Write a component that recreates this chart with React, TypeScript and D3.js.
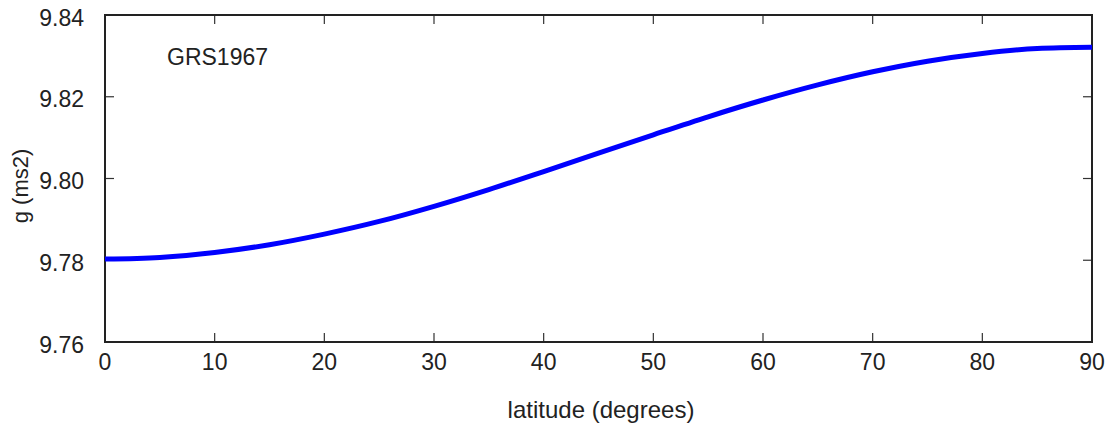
import React, { useRef, useEffect } from "react";
import * as d3 from "d3";

// GRS1967 normal gravity (every 5 degrees)
const latitudes = [0, 5, 10, 15, 20, 25, 30, 35, 40, 45, 50, 55, 60, 65, 70, 75, 80, 85, 90];
const gravity = [
  9.7803, 9.7807, 9.7819, 9.7838, 9.7864, 9.7895, 9.7932, 9.7973, 9.8017, 9.8062,
  9.8107, 9.8151, 9.8192, 9.8229, 9.8261, 9.8287, 9.8306, 9.8318, 9.8321,
];
const xTicks = [0, 10, 20, 30, 40, 50, 60, 70, 80, 90];
const yTicks = [9.76, 9.78, 9.8, 9.82, 9.84];
const seriesLabel = "GRS1967";

const WIDTH = 1112;
const HEIGHT = 426;

const App = () => {
  const svgRef = useRef<SVGSVGElement>(null);

  useEffect(() => {
    const svg = d3.select(svgRef.current);
    svg.selectAll("*").remove();

    const margin = { top: 15, right: 20, bottom: 84, left: 105 };
    const width = WIDTH - margin.left - margin.right;
    const height = HEIGHT - margin.top - margin.bottom;
    const font = "Arial, 'Liberation Sans', sans-serif";

    const x = d3.scaleLinear().domain([0, 90]).range([0, width]);
    const y = d3.scaleLinear().domain([9.76, 9.84]).range([height, 0]);

    const g = svg.append("g").attr("transform", `translate(${margin.left},${margin.top})`);

    // inward ticks on all four sides
    const tickLen = 9;
    xTicks.forEach((t) => {
      g.append("line")
        .attr("x1", x(t)).attr("x2", x(t))
        .attr("y1", height).attr("y2", height - tickLen)
        .attr("stroke", "#333").attr("stroke-width", 1.2);
      g.append("line")
        .attr("x1", x(t)).attr("x2", x(t))
        .attr("y1", 0).attr("y2", tickLen)
        .attr("stroke", "#333").attr("stroke-width", 1.2);
      g.append("text")
        .attr("x", x(t))
        .attr("y", height + 28)
        .attr("text-anchor", "middle")
        .style("font-family", font)
        .style("font-size", "23px")
        .attr("fill", "#222")
        .text(t);
    });

    yTicks.forEach((t) => {
      g.append("line")
        .attr("x1", 0).attr("x2", tickLen)
        .attr("y1", y(t)).attr("y2", y(t))
        .attr("stroke", "#333").attr("stroke-width", 1.2);
      g.append("line")
        .attr("x1", width).attr("x2", width - tickLen)
        .attr("y1", y(t)).attr("y2", y(t))
        .attr("stroke", "#333").attr("stroke-width", 1.2);
      g.append("text")
        .attr("x", -21)
        .attr("y", y(t) + 10.5)
        .attr("text-anchor", "end")
        .style("font-family", font)
        .style("font-size", "23px")
        .attr("fill", "#222")
        .text(d3.format(".2f")(t));
    });

    // frame
    g.append("rect")
      .attr("x", 0).attr("y", 0)
      .attr("width", width).attr("height", height)
      .attr("fill", "none")
      .attr("stroke", "#222")
      .attr("stroke-width", 2);

    const line = d3.line<number>()
      .x((d, i) => x(latitudes[i]))
      .y((d) => y(d))
      .curve(d3.curveMonotoneX);

    g.append("path")
      .datum(gravity)
      .attr("d", line)
      .attr("fill", "none")
      .attr("stroke", "#0000ff")
      .attr("stroke-width", 5);

    g.append("text")
      .attr("x", 62)
      .attr("y", 50)
      .style("font-family", font)
      .style("font-size", "23px")
      .attr("fill", "#222")
      .text(seriesLabel);

    // axis titles
    svg.append("text")
      .attr("x", 601)
      .attr("y", 418)
      .attr("text-anchor", "middle")
      .style("font-family", font)
      .style("font-size", "24px")
      .attr("fill", "#222")
      .text("latitude (degrees)");

    svg.append("text")
      .attr("transform", `translate(28,186) rotate(-90)`)
      .attr("text-anchor", "middle")
      .style("font-family", font)
      .style("font-size", "22px")
      .attr("fill", "#222")
      .text("g (ms2)");
  }, []);

  return (
    <svg
      ref={svgRef}
      width={WIDTH}
      height={HEIGHT}
      style={{ position: "absolute", left: 0, top: 0, background: "#fff" }}
    />
  );
};

export default App;
